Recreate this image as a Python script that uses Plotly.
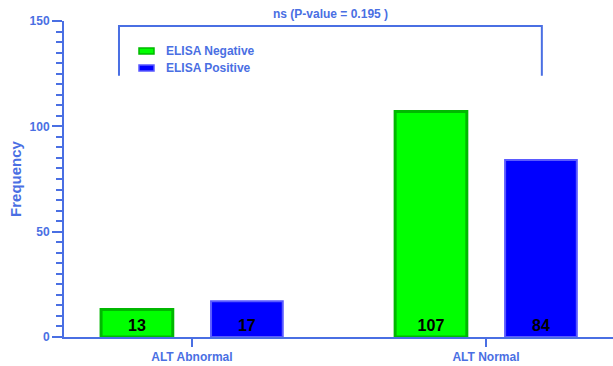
import plotly.graph_objects as go

# Data
categories = ["ALT Abnormal", "ALT Normal"]
elisa_negative = [13, 107]
elisa_positive = [17, 84]
series_names = ["ELISA Negative", "ELISA Positive"]
p_label = "ns (P-value = 0.195 )"

AXIS_BLUE = "#4a6fe3"
GREEN_FILL, GREEN_LINE = "#00ff00", "#00b800"
BLUE_FILL, BLUE_LINE = "#0000ff", "#5a5aff"
FONT = "Liberation Sans, Arial, sans-serif"

fig = go.Figure()
for name, vals, fill, edge, lw in [
    (series_names[0], elisa_negative, GREEN_FILL, GREEN_LINE, 3),
    (series_names[1], elisa_positive, BLUE_FILL, BLUE_LINE, 2),
]:
    fig.add_trace(go.Bar(
        x=categories, y=vals, name=name,
        marker=dict(color=fill, line=dict(color=edge, width=lw)),
        text=["<b>%d</b>" % v for v in vals],
        textposition="inside", insidetextanchor="start", textangle=0,
        textfont=dict(family=FONT, size=16, color="black"),
        constraintext="none",
        showlegend=False,
    ))

# Significance bracket spanning both groups
fig.add_shape(type="path", xref="x", yref="y",
              path="M -0.248 124 L -0.248 147.6 L 1.19 147.6 L 1.19 124",
              line=dict(color=AXIS_BLUE, width=2))
fig.add_annotation(x=(330 - 64) / 549, y=(337 - 14) / 316, xref="paper", yref="paper",
                   text="<b>%s</b>" % p_label, showarrow=False,
                   font=dict(family=FONT, size=12, color=AXIS_BLUE), yanchor="middle")

# Legend drawn as swatches + labels
legend_items = [(series_names[0], GREEN_FILL, GREEN_LINE, 51),
                (series_names[1], BLUE_FILL, BLUE_LINE, 68)]
for label, fill, edge, ypx in legend_items:
    fig.add_shape(type="rect", xref="paper", yref="paper",
                  x0=(139 - 64) / 549, x1=(154 - 64) / 549,
                  y0=(337 - ypx - 3) / 316, y1=(337 - ypx + 3) / 316,
                  fillcolor=fill, line=dict(color=edge, width=1.5))
    fig.add_annotation(x=(164 - 64) / 549, y=(337 - ypx) / 316, xref="paper", yref="paper",
                       text="<b>%s</b>" % label, showarrow=False, xanchor="left",
                       yanchor="middle", font=dict(family=FONT, size=12, color=AXIS_BLUE))

fig.update_layout(
    width=613, height=366,
    margin=dict(l=64, r=0, t=21, b=29),
    plot_bgcolor="white", paper_bgcolor="white",
    barmode="group", bargap=0.252, bargroupgap=0.348,
    font=dict(family=FONT, color=AXIS_BLUE),
)
fig.update_xaxes(
    range=[-0.435, 1.432], showline=True, linecolor=AXIS_BLUE, linewidth=2,
    ticks="outside", ticklen=8, tickwidth=2, tickcolor=AXIS_BLUE,
    tickfont=dict(family=FONT, size=12, color=AXIS_BLUE, weight="bold"),
    showgrid=False, zeroline=False,
)
fig.update_yaxes(
    range=[0, 150], dtick=50, showline=True, linecolor=AXIS_BLUE, linewidth=2,
    ticks="outside", ticklen=10, tickwidth=2, tickcolor=AXIS_BLUE,
    minor=dict(dtick=5, ticks="outside", ticklen=6, tickwidth=2, tickcolor=AXIS_BLUE),
    tickfont=dict(family=FONT, size=12, color=AXIS_BLUE, weight="bold"),
    title=dict(text="<b>Frequency</b>", font=dict(family=FONT, size=15, color=AXIS_BLUE),
               standoff=4),
    showgrid=False, zeroline=False,
)

fig.write_html("out.html")
